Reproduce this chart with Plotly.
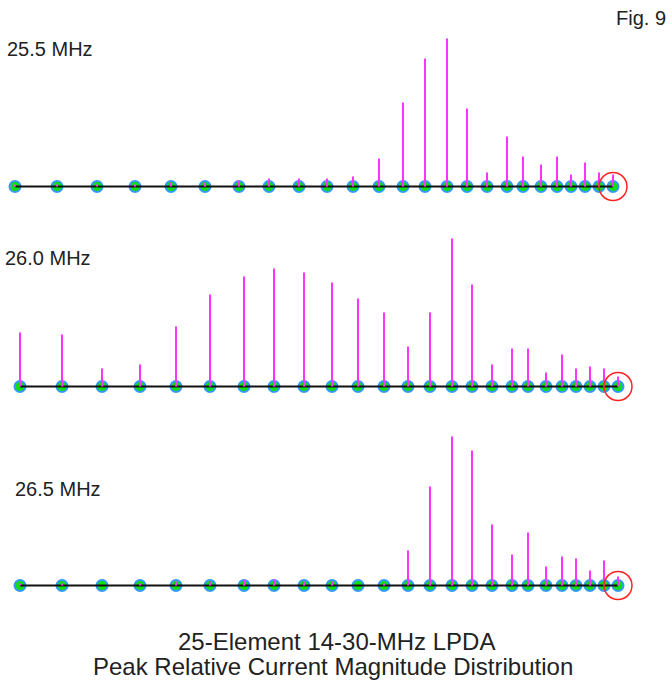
import plotly.graph_objects as go

# Element positions along the boom (arbitrary units, rear element = 0)
element_pos = [0, 42, 82, 120, 156, 190, 224, 254, 284, 312, 338, 364, 388,
               410, 432, 452, 472, 492, 508, 526, 542, 556, 570, 584, 598]

# Peak relative current magnitude for each element (arbitrary units)
freqs = ["25.5 MHz", "26.0 MHz", "26.5 MHz"]
current_255 = [2, 2, 2, 2, 4, 4, 6, 8, 8, 8, 10, 28, 84, 128, 148, 78, 14,
               50, 30, 22, 30, 12, 24, 14, 12]
current_260 = [54, 52, 18, 22, 60, 92, 110, 118, 114, 104, 88, 74, 40, 74,
               148, 102, 22, 38, 38, 14, 32, 18, 20, 18, 10]
current_265 = [2, 2, 0, 2, 4, 4, 6, 6, 4, 4, 0, 2, 35, 99, 149, 135, 61, 31,
               53, 19, 29, 27, 15, 25, 9]
currents = [current_255, current_260, current_265]

title_line1 = "25-Element 14-30-MHz LPDA"
title_line2 = "Peak Relative Current Magnitude Distribution"
fig_label = "Fig. 9"

W, H = 672, 685
FONT = "Liberation Sans, Arial, sans-serif"

def px(x):
    return x / W

def py(y):
    return 1 - y / H

# panel layout: (left pixel of first element, baseline pixel, label x, label y)
panels = [
    (15, 186.5, 5, 48.5),
    (20, 386.5, 2.5, 257.5),
    (20, 585.5, 13, 488.5),
]

fig = go.Figure()
layout_axes = {}
annotations = []

for i, (vals, (x0, base, lx, ly)) in enumerate(zip(currents, panels)):
    n = "" if i == 0 else str(i + 1)
    xa, ya = "x" + n, "y" + n
    # element markers
    fig.add_trace(go.Scatter(
        x=element_pos, y=[0] * len(element_pos), mode="markers",
        marker=dict(size=11, color="#11dd11",
                    line=dict(color="#3399ff", width=2)),
        xaxis=xa, yaxis=ya, cliponaxis=False, hoverinfo="skip"))
    # boom line
    fig.add_trace(go.Scatter(
        x=[element_pos[0], element_pos[-1]], y=[0, 0], mode="lines",
        line=dict(color="#111111", width=2),
        xaxis=xa, yaxis=ya, cliponaxis=False, hoverinfo="skip"))
    # current stems
    sx, sy = [], []
    for p, v in zip(element_pos, vals):
        if v > 0:
            sx += [p, p, None]
            sy += [0, v, None]
    fig.add_trace(go.Scatter(
        x=sx, y=sy, mode="lines",
        line=dict(color="#ff33ff", width=2),
        xaxis=xa, yaxis=ya, cliponaxis=False, hoverinfo="skip"))
    # feed point circle
    fig.add_trace(go.Scatter(
        x=[element_pos[-1]], y=[0], mode="markers",
        marker=dict(symbol="circle-open", size=28, color="#ff2222",
                    line=dict(width=1.5)),
        xaxis=xa, yaxis=ya, cliponaxis=False, hoverinfo="skip"))

    bottom_px, top_px = base + 20, base - 180
    key = "" if i == 0 else str(i + 1)
    layout_axes["xaxis" + key] = dict(
        domain=[0, 1], range=[-x0, W - x0], visible=False, fixedrange=True,
        anchor=ya)
    layout_axes["yaxis" + key] = dict(
        domain=[py(bottom_px), py(top_px)], range=[-20, 180], visible=False,
        fixedrange=True, anchor=xa)
    annotations.append(dict(
        text=freqs[i], x=px(lx), y=py(ly), xref="paper", yref="paper",
        xanchor="left", yanchor="middle", showarrow=False,
        font=dict(family=FONT, size=20, color="#222222")))

annotations += [
    dict(text=fig_label, x=px(614), y=py(18), xref="paper", yref="paper",
         xanchor="left", yanchor="middle", showarrow=False,
         font=dict(family=FONT, size=20, color="#222222")),
    dict(text=title_line1, x=px(336.5), y=py(641), xref="paper", yref="paper",
         xanchor="center", yanchor="middle", showarrow=False,
         font=dict(family=FONT, size=24, color="#222222")),
    dict(text=title_line2, x=px(332.5), y=py(666), xref="paper", yref="paper",
         xanchor="center", yanchor="middle", showarrow=False,
         font=dict(family=FONT, size=24, color="#222222")),
]

fig.update_layout(
    width=W, height=H, autosize=False,
    margin=dict(l=0, r=0, t=0, b=0),
    paper_bgcolor="white", plot_bgcolor="white",
    showlegend=False, annotations=annotations,
    **layout_axes)

fig.write_html(
    "out.html",
    config={"displayModeBar": False},
    post_script="document.body.style.margin='0';"
                "document.documentElement.style.overflow='hidden';")
